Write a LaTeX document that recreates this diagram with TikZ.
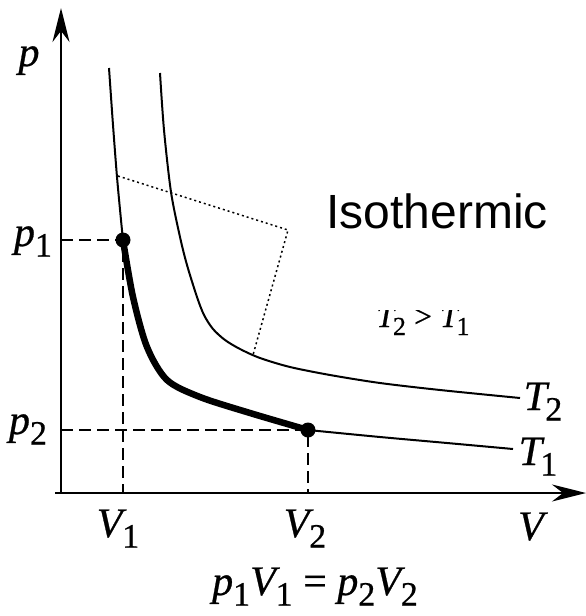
\documentclass[tikz,border=0pt]{standalone}
\usepackage{fontspec}
\setmainfont{Liberation Serif}[FakeBold=0.6]
\newfontfamily\isofont{Liberation Sans}
\usetikzlibrary{arrows.meta}
\newcommand\subsz{34}
\newcommand\sub[3][0em]{\textit{#2}\kern#1\raisebox{-0.25em}{\fontsize{\subsz}{\subsz}\selectfont #3}}

\begin{document}
\begin{tikzpicture}[x=1pt, y=-1pt,
        axis/.style={line width=2.5pt, -{Stealth[length=34pt, width=17pt]}},
        isoline/.style={line width=2pt},
        process/.style={line width=6.5pt, line cap=round},
        guide/.style={line width=2pt, dash pattern=on 12pt off 6pt},
        dotline/.style={line width=1.5pt, dash pattern=on 2pt off 3pt},
        state/.style={circle, fill, inner sep=0pt, minimum size=15pt},
        lbl/.style={font=\fontsize{42}{46}\selectfont, inner sep=0pt, anchor=base}
      ]
        \useasboundingbox (0,0) rectangle (586,616);
        % axes
        \coordinate (O) at (61,493);
        \coordinate (ptip) at (61,8);
        \coordinate (Vtip) at (586,493);
        \draw[axis] (O) -- (ptip);
        \draw[axis] (55,493) -- (Vtip);
        % isotherm T1 (upper, process, lower)
        \draw[isoline] plot[smooth] coordinates {(109,68) (113,125) (117,177) (121,220) (123,240)};
        \draw[process] plot[smooth] coordinates {(123,240) (133,297) (147,347) (167,380) (200,397) (250,413) (308,430)};
        \draw[isoline] plot[smooth] coordinates {(308,430) (380,437) (447,443) (513,449)};
        % isotherm T2
        \draw[isoline] plot[smooth] coordinates {(160,73) (164,130) (171,192) (180,237) (187,265) (197,297) (204,315) (213,329) (225,340) (240,349) (260,358) (290,367) (330,375) (380,383) (440,390) (520,398)};
        % states
        \node[state] (s1) at (123,240) {};
        \node[state] (s2) at (308,430) {};
        \foreach \s in {s1,s2} {
          \draw[guide] (\s.center -| O) -- (\s.center) -- (\s.center |- O);
        }
        % dotted
        \coordinate (d1) at (118,176);
        \coordinate (d2) at (288,230);
        \coordinate (d3) at (253,355);
        \draw[dotline] (d1) -- (d2) -- (d3);
        % labels
        \node[lbl] (plab) at (29,66) {\textit{p}};
        \node[lbl] (p1lab) at (33,246) {\sub{p}{1}};
        \node[lbl] (p2lab) at (28,434) {\sub{p}{2}};
        \node[lbl] (V1lab) at (118,537) {\sub[-0.1em]{V}{1}};
        \node[lbl] (V2lab) at (305,537) {\sub[-0.1em]{V}{2}};
        \node[lbl] (Vlab) at (533,540) {\textit{V}};
        \node[lbl] (T2lab) at (543,410) {\sub[-0.1em]{T}{2}};
        \node[lbl] (T1lab) at (538,465) {\sub[-0.1em]{T}{1}};
        \node[lbl] (law) at (315,595) {\sub{p}{1}\sub[-0.1em]{V}{1} = \sub{p}{2}\sub[-0.1em]{V}{2}};
        \node[font=\isofont\fontsize{48}{52}\selectfont, inner sep=0pt, anchor=base] (title) at (437,228) {Isothermic};
        \begin{scope}
          \clip (360,310) rectangle (490,345);
          \node[lbl, font=\fontsize{32}{36}\selectfont] (order) at (423,327) {\renewcommand\subsz{26}\sub[-0.1em]{T}{2} > \sub[-0.1em]{T}{1}};
        \end{scope}
      \end{tikzpicture}
\end{document}
